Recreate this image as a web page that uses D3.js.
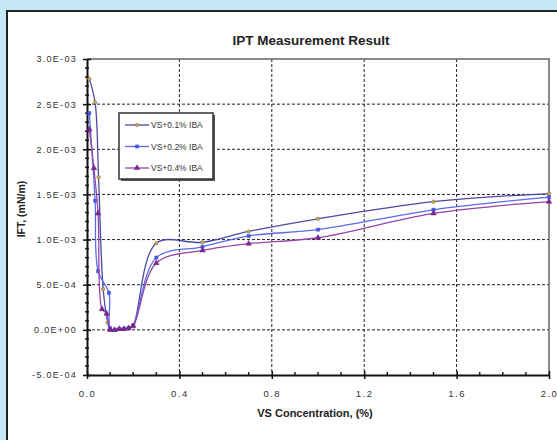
<!DOCTYPE html>
<html>
<head>
<meta charset="utf-8">
<script src="https://cdn.jsdelivr.net/npm/d3@7"></script>
<style>
  html, body { margin: 0; padding: 0; background: #c6e7f8; }
  svg { display: block; }
</style>
</head>
<body>
<svg id="chart" width="557" height="440"></svg>
<script>
// VS concentration (%) for each measured point
const conc01 = [0.01, 0.035, 0.05, 0.07, 0.09, 0.1, 0.12, 0.14, 0.16, 0.18, 0.2, 0.3, 0.5, 0.7, 1.0, 1.5, 2.0];
const conc02 = [0.01, 0.035, 0.048, 0.095, 0.1, 0.12, 0.14, 0.16, 0.18, 0.2, 0.3, 0.5, 0.7, 1.0, 1.5, 2.0];
const conc04 = [0.01, 0.03, 0.048, 0.065, 0.085, 0.1, 0.12, 0.14, 0.16, 0.18, 0.2, 0.3, 0.5, 0.7, 1.0, 1.5, 2.0];

// Interfacial tension (mN/m)
const ift01 = [2.78e-3, 2.52e-3, 1.69e-3, 0.45e-3, 0.08e-3, 0.0, 0.0, 0.01e-3, 0.01e-3, 0.02e-3, 0.05e-3, 0.96e-3, 0.97e-3, 1.09e-3, 1.23e-3, 1.42e-3, 1.51e-3];
const ift02 = [2.40e-3, 1.43e-3, 0.65e-3, 0.41e-3, 0.02e-3, 0.0, 0.01e-3, 0.01e-3, 0.02e-3, 0.05e-3, 0.80e-3, 0.92e-3, 1.04e-3, 1.11e-3, 1.33e-3, 1.47e-3];
const ift04 = [2.22e-3, 1.79e-3, 1.29e-3, 0.23e-3, 0.18e-3, 0.0, 0.0, 0.01e-3, 0.01e-3, 0.02e-3, 0.04e-3, 0.74e-3, 0.88e-3, 0.955e-3, 1.02e-3, 1.29e-3, 1.42e-3];

const seriesNames = ["VS+0.1% IBA", "VS+0.2% IBA", "VS+0.4% IBA"];
const xTicks = [0.0, 0.4, 0.8, 1.2, 1.6, 2.0];
const yTicks = [-5e-4, 0, 5e-4, 1e-3, 1.5e-3, 2e-3, 2.5e-3, 3e-3];

const chartTitle = "IPT Measurement Result";
const xTitle = "VS Concentration, (%)";
const yTitle = "IFT, (mN/m)";

const series = [
  { name: seriesNames[0], xs: conc01, ys: ift01, line: "#4a4aa6", fill: "#c9ab3c", stroke: "#7a6a70", shape: d3.symbolCircle },
  { name: seriesNames[1], xs: conc02, ys: ift02, line: "#5b6aea", fill: "#4a5ae6", stroke: "#3a48c8", shape: d3.symbolSquare },
  { name: seriesNames[2], xs: conc04, ys: ift04, line: "#9444a6", fill: "#7a2a92", stroke: "#6a1a82", shape: d3.symbolTriangle }
];

const svg = d3.select("#chart");

// panel
svg.append("rect").attr("x", 7).attr("y", 11).attr("width", 600).attr("height", 500)
  .attr("fill", "#fff").attr("stroke", "#222").attr("stroke-width", 2);

const x = d3.scaleLinear().domain([0, 2]).range([87, 549]);
const y = d3.scaleLinear().domain([-5e-4, 3e-3]).range([375, 59]);

// scientific label like 3.0E-03
function sci(v) {
  if (v === 0) return "0.0E+00";
  const exp = Math.floor(Math.log10(Math.abs(v)) + 1e-9);
  const mant = v / Math.pow(10, exp);
  const e = Math.abs(exp);
  return mant.toFixed(1) + "E" + (exp < 0 ? "-" : "+") + (e < 10 ? "0" : "") + e;
}

// grid
const grid = svg.append("g").attr("stroke", "#222").attr("stroke-width", 1).attr("stroke-dasharray", "3,2");
grid.selectAll("line.h").data(yTicks.filter(t => t > -5e-4 && t < 3e-3)).join("line")
  .attr("x1", x(0)).attr("x2", x(2)).attr("y1", d => y(d)).attr("y2", d => y(d));
grid.selectAll("line.v").data(xTicks.filter(t => t > 0 && t < 2)).join("line")
  .attr("y1", y(3e-3)).attr("y2", y(-5e-4)).attr("x1", d => x(d)).attr("x2", d => x(d));

// plot frame (top/right)
svg.append("path")
  .attr("d", `M${x(0)},${y(3e-3)}H${x(2)}V${y(-5e-4)}`)
  .attr("fill", "none").attr("stroke", "#666").attr("stroke-width", 1.5);

// minor ticks
const minorX = d3.range(1, 20).map(i => i / 10).filter(v => Math.abs(v * 10 % 4) > 1e-6);
svg.append("g").attr("stroke", "#222").attr("stroke-width", 1.5)
  .selectAll("line").data(minorX).join("line")
  .attr("x1", d => x(d)).attr("x2", d => x(d)).attr("y1", y(-5e-4)).attr("y2", y(-5e-4) - 3);
const minorY = d3.range(-4, 30).map(i => i * 1e-4).filter(v => Math.abs(Math.round(v * 1e4)) % 5 !== 0);
svg.append("g").attr("stroke", "#222").attr("stroke-width", 1.5)
  .selectAll("line").data(minorY).join("line")
  .attr("x1", x(0) - 2).attr("x2", x(0) + 2).attr("y1", d => y(d)).attr("y2", d => y(d));

// axes
const tickFont = "Liberation Sans, Arial, sans-serif";
const xAxis = svg.append("g").attr("transform", `translate(0,${y(-5e-4)})`)
  .call(d3.axisBottom(x).tickValues(xTicks).tickFormat(d3.format(".1f")).tickSizeInner(4).tickSizeOuter(0).tickPadding(11));
xAxis.select(".domain").attr("stroke", "#111").attr("stroke-width", 2);
xAxis.selectAll(".tick line").attr("stroke", "#111").attr("stroke-width", 1.5).attr("y1", -4);
xAxis.selectAll(".tick text").attr("font-family", tickFont).attr("font-size", 9.5)
  .attr("fill", "#333").attr("letter-spacing", 1.5);

const yAxis = svg.append("g").attr("transform", `translate(${x(0)},0)`)
  .call(d3.axisLeft(y).tickValues(yTicks).tickFormat(sci).tickSizeInner(4).tickSizeOuter(0).tickPadding(6));
yAxis.select(".domain").attr("stroke", "#111").attr("stroke-width", 2);
yAxis.selectAll(".tick line").attr("stroke", "#111").attr("stroke-width", 1.5).attr("x1", 4);
yAxis.selectAll(".tick text").attr("font-family", tickFont).attr("font-size", 9)
  .attr("fill", "#333").attr("letter-spacing", 1.3);

// data lines and markers
const lineGen = d3.line().x(d => x(d[0])).y(d => y(d[1])).curve(d3.curveCatmullRom.alpha(0.5));
const markerSize = s => (s.shape === d3.symbolTriangle ? 13 : 10);
series.forEach(s => {
  const pts = s.xs.map((v, i) => [v, s.ys[i]]);
  svg.append("path").datum(pts).attr("d", lineGen)
    .attr("fill", "none").attr("stroke", s.line).attr("stroke-width", 1.3);
  svg.append("g").selectAll("path").data(pts).join("path")
    .attr("transform", d => `translate(${x(d[0])},${y(d[1])})`)
    .attr("d", d3.symbol().type(s.shape).size(markerSize(s)))
    .attr("fill", s.fill).attr("stroke", s.stroke).attr("stroke-width", 0.5);
});

// legend
const lg = svg.append("g");
lg.append("rect").attr("x", 121).attr("y", 115).attr("width", 94).attr("height", 66).attr("fill", "#555");
lg.append("rect").attr("x", 119).attr("y", 113).attr("width", 94).attr("height", 66)
  .attr("fill", "#fff").attr("stroke", "#333").attr("stroke-width", 1.5);
series.forEach((s, i) => {
  const ly = 125 + i * 21.5;
  lg.append("line").attr("x1", 125).attr("x2", 149).attr("y1", ly).attr("y2", ly)
    .attr("stroke", s.line).attr("stroke-width", 1.3);
  lg.append("path").attr("transform", `translate(137,${ly})`)
    .attr("d", d3.symbol().type(s.shape).size(markerSize(s)))
    .attr("fill", s.fill).attr("stroke", s.stroke).attr("stroke-width", 0.5);
  lg.append("text").attr("x", 151).attr("y", ly + 3).text(s.name)
    .attr("font-family", tickFont).attr("font-size", 8.5).attr("fill", "#333");
});

// titles
svg.append("text").attr("x", 311).attr("y", 45).attr("text-anchor", "middle").text(chartTitle)
  .attr("font-family", tickFont).attr("font-weight", "bold").attr("font-size", 13.5).attr("fill", "#222");
svg.append("text").attr("x", 315).attr("y", 417).attr("text-anchor", "middle").text(xTitle)
  .attr("font-family", tickFont).attr("font-weight", "bold").attr("font-size", 11).attr("fill", "#222");
svg.append("text").attr("transform", "translate(25,209) rotate(-90)").attr("text-anchor", "middle").text(yTitle)
  .attr("font-family", tickFont).attr("font-weight", "bold").attr("font-size", 10.5).attr("fill", "#222");
</script>
</body>
</html>
